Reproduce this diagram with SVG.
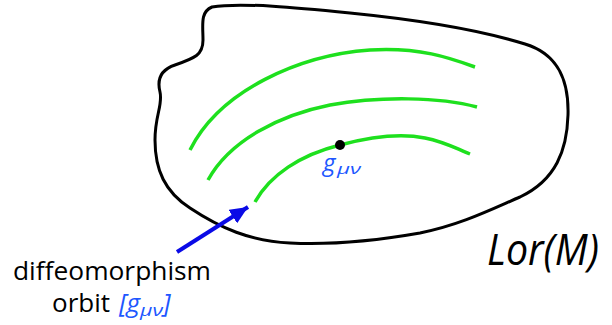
<svg xmlns="http://www.w3.org/2000/svg" width="612" height="325" viewBox="0 0 612 325">
<style>
.blob{fill:none;stroke:#000;stroke-width:3;stroke-linejoin:round}
.orbit{fill:none;stroke:#1ee01e;stroke-width:3.5;stroke-linecap:butt}
.t{font-family:"Open Sans","Liberation Sans",sans-serif;fill:#000}
.b{font-family:"Open Sans","Liberation Sans",sans-serif;fill:#2056ff;font-style:italic}
</style>
<defs>
<marker id="ah" markerUnits="userSpaceOnUse" markerWidth="20" markerHeight="16" refX="18" refY="8" orient="auto">
<path d="M0,0 L18,8 L0,16 Z" fill="#0a0ae6"/>
</marker>
</defs>
<g id="manifold">
<path class="blob" d="M212,7 C240,2 300,8 350,13 C420,20 480,30 525,44 C558,54 569,80 568,115 C567,150 556,180 520,197 C490,210 460,225 420,233 C380,240 330,245 290,243 C250,241 220,228 190,208 C165,192 155,170 155,140 C155,115 163,105 160,92 C157,80 160,70 175,65 C195,58 203,55 203,40 C203,25 200,12 212,7 Z"/>
<text class="t" x="487" y="265" font-size="43" font-style="italic" textLength="112" lengthAdjust="spacingAndGlyphs">Lor(M)</text>
</g>
<g id="orbits">
<path class="orbit" d="M190,150 C220,90 300,55 370,50 C420,47 450,58 475,67"/>
<path class="orbit" d="M208,180 C230,140 280,115 330,105 C380,96 440,97 477,107"/>
<path class="orbit" d="M255,202 C270,175 300,155 340,145 C370,137 400,133 425,138 C445,142 455,148 470,154"/>
</g>
<g id="point">
<circle cx="340" cy="145" r="5" fill="#000"/>
<text class="b" x="323" y="171" font-size="24">g</text>
<text class="b" x="337" y="174" font-size="15" textLength="24" lengthAdjust="spacingAndGlyphs">μν</text>
</g>
<g id="connectors">
<line x1="177" y1="252" x2="248" y2="207" stroke="#0a0ae6" stroke-width="4" marker-end="url(#ah)"/>
</g>
<g id="label">
<text class="t" x="13" y="280" font-size="25" textLength="198" lengthAdjust="spacingAndGlyphs">diffeomorphism</text>
<text class="t" x="52" y="312" font-size="25" textLength="58" lengthAdjust="spacingAndGlyphs">orbit</text>
<text class="b" x="119" y="312" font-size="26">[g</text>
<text class="b" x="140" y="316" font-size="17" textLength="23" lengthAdjust="spacingAndGlyphs">μν</text>
<text class="b" x="163" y="312" font-size="26">]</text>
</g>
</svg>
